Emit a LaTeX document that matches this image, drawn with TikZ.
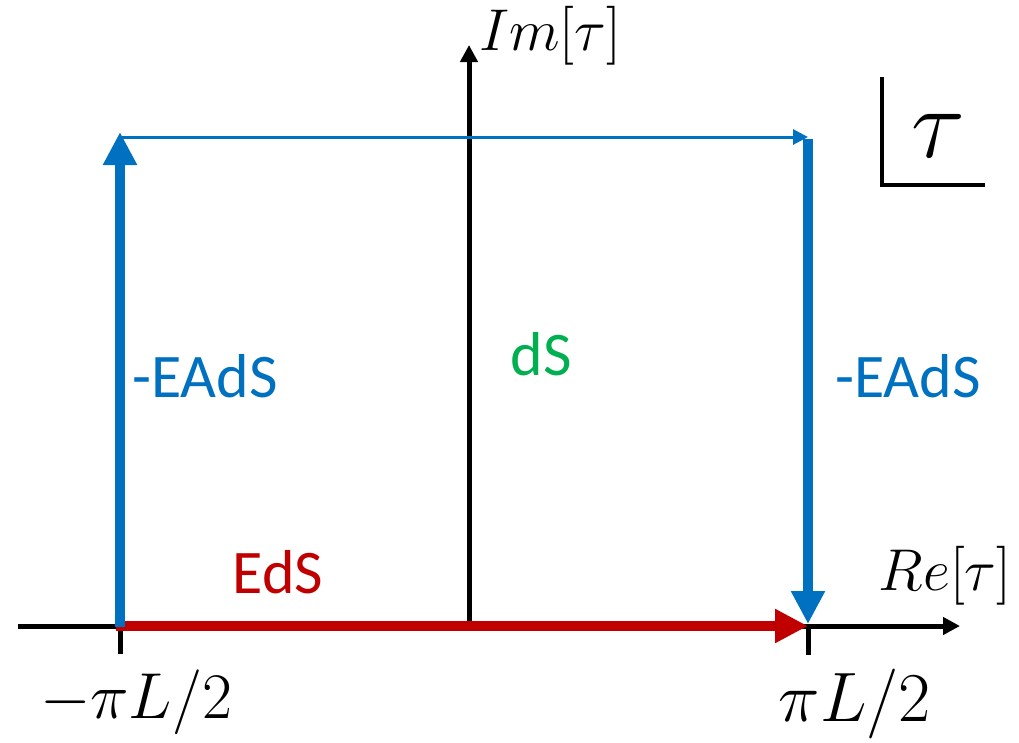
\RequirePackage{fix-cm}
\documentclass[tikz,border=0pt]{standalone}
\usepackage{fontspec}
\setsansfont{Carlito}
\usetikzlibrary{arrows.meta}
\definecolor{cblue}{RGB}{0,112,192}
\definecolor{cred}{RGB}{192,0,0}
\definecolor{cgreen}{RGB}{0,176,80}
\tikzset{
  axis/.style={line width=5pt,black},
  axarrow/.style={axis,-{Triangle[length=17pt,width=17pt]}},
  thickblue/.style={line width=9.5pt,cblue,-{Triangle[length=33pt,width=32pt]}},
  thinblue/.style={line width=3pt,cblue,-{Triangle[length=15pt,width=15pt]}},
  thickred/.style={line width=9.5pt,cred,-{Triangle[length=33pt,width=32pt]}},
  lab/.style={font=\sffamily\fontsize{62}{70}\selectfont,inner sep=0pt,anchor=base},
  mlab/.style={font=\fontsize{59}{70}\selectfont,inner sep=0pt,anchor=base},
  blab/.style={font=\fontsize{65}{70}\selectfont,inner sep=0pt,anchor=base},
}
\begin{document}
\begin{tikzpicture}[x=1pt,y=-1pt]
\useasboundingbox (0,0) rectangle (1019,742);
% coordinates
\coordinate (xs) at (18,626);
\coordinate (xe) at (960,626);
\coordinate (ys) at (469,626);
\coordinate (ye) at (469,45);
\coordinate (A) at (120,626);
\coordinate (At) at (120,654);
\coordinate (B) at (808,626);
\coordinate (Bt) at (808,655);
\coordinate (Atop) at (120,132);
\coordinate (Hs) at (121,137);
\coordinate (He) at (808,137);
\coordinate (Rs) at (808,139);
\coordinate (Re) at (808,624);
\coordinate (Rl) at (116,626);
\coordinate (Bs) at (120,627);
\coordinate (c1) at (882,77);
\coordinate (c2) at (882,185);
\coordinate (c3) at (985,185);
% axes
\draw[axarrow] (xs) -- (xe);
\draw[axarrow] (ys) -- (ye);
\draw[axis] (A) -- (At);
\draw[axis] (B) -- (Bt);
% paths
\draw[thickred] (Rl) -- (B);
\draw[thickblue] (Bs) -- (Atop);
\draw[thinblue] (Hs) -- (He);
\draw[thickblue] (Rs) -- (Re);
% tau corner
\draw[line width=4.5pt,black] (c1) -- (c2) -- (c3);
\node[inner sep=0pt,anchor=base,font=\fontsize{100}{110}\selectfont] (tau) at (938,157) {$\tau$};
% labels
\node[mlab] (im) at (550,50) {$Im[\tau]$};
\node[mlab] (re) at (945,590) {$Re[\tau]$};
\node[blab] (ml) at (136,718) {$-\pi L/2$};
\node[blab,font=\fontsize{70}{76}\selectfont] (pl) at (855,721) {$\pi L/2$};
\node[lab,text=cblue] (e1) at (205,397) {-EAdS};
\node[lab,text=cblue] (e2) at (908,397) {-EAdS};
\node[lab,text=cgreen] (ds) at (541,375) {dS};
\node[lab,text=cred] (eds) at (278,593) {EdS};
\end{tikzpicture}
\end{document}
